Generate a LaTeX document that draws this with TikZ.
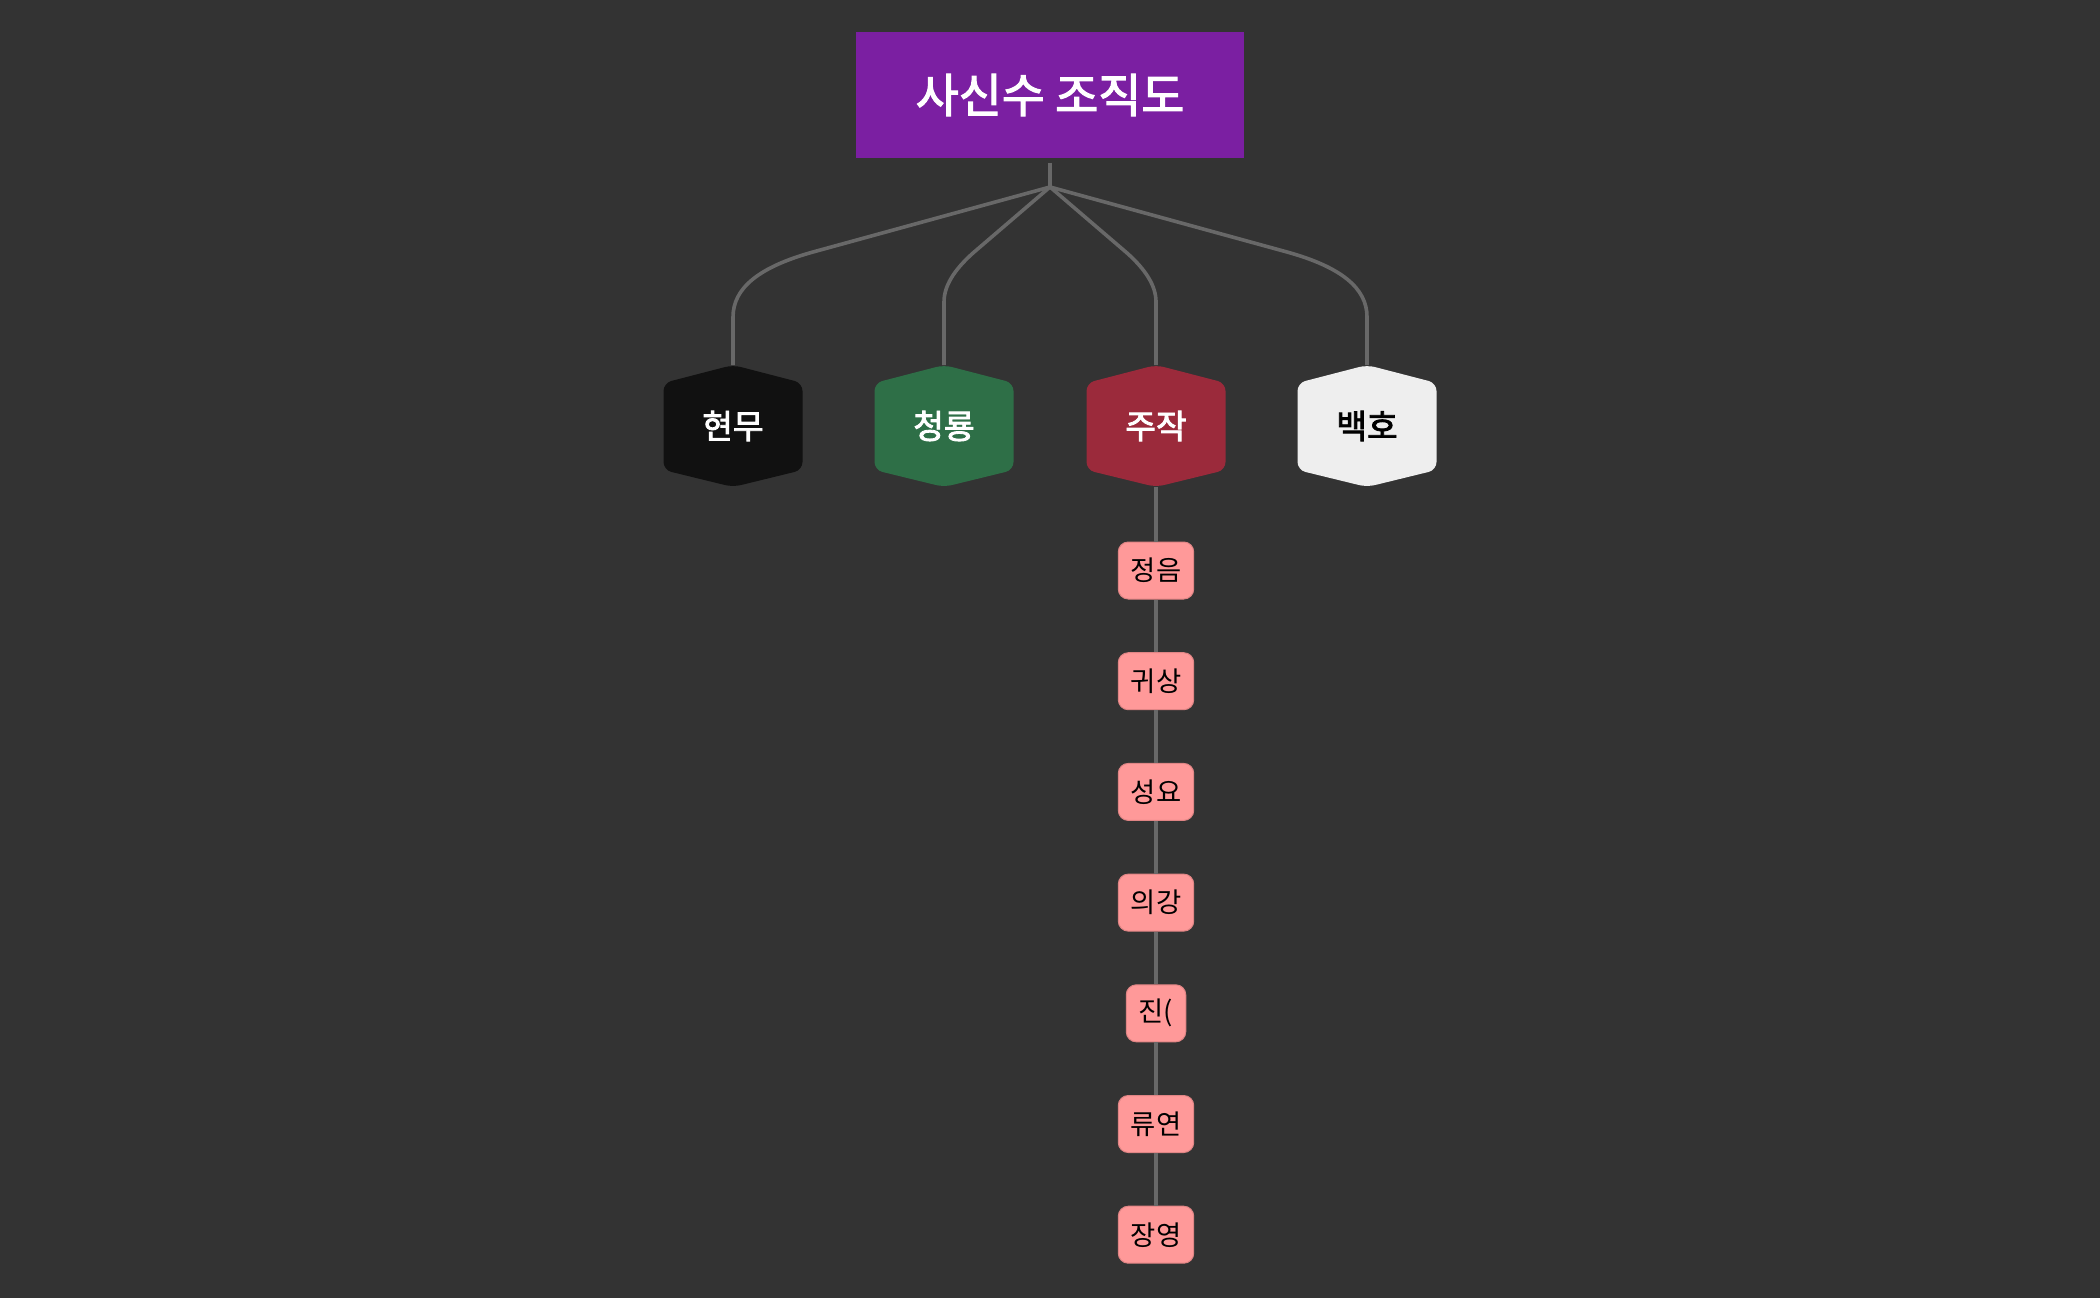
\documentclass[tikz,border=0pt]{standalone}
\usepackage{fontspec}
\newfontfamily\kr{Noto Sans CJK KR}
\newfontfamily\krmid[FakeBold=2.5]{Noto Sans CJK KR}
\definecolor{canvas}{HTML}{333333}
\definecolor{linegray}{HTML}{686868}
\definecolor{titlepurple}{HTML}{7B1FA2}
\definecolor{hexblack}{HTML}{111111}
\definecolor{hexgreen}{HTML}{2E6F47}
\definecolor{hexred}{HTML}{9B2A3B}
\definecolor{hexwhite}{HTML}{EEEEEE}
\definecolor{memberpink}{HTML}{FF9999}
\definecolor{memberedge}{HTML}{E08585}
% hexagon cell: name, x, fill, text colour, label
\newcommand{\hexcell}[5]{%
  \fill[#3, rounded corners=0.8mm] (#2-69.5,383) -- (#2,365) -- (#2+69.5,383)
    -- (#2+69.5,470) -- (#2,487) -- (#2-69.5,470) -- cycle;
  \node[hexlabel, text=#4] (#1) at (#2,426) {#5};
  \coordinate (#1-top) at (#2,365);
  \coordinate (#1-bottom) at (#2,487);}

\begin{document}
\begin{tikzpicture}[x=0.1mm, y=-0.1mm,
  link/.style={draw=linegray, line width=0.36mm},
  hexlabel/.style={font=\krmid\fontsize{9.5}{11}\selectfont},
  member/.style={fill=memberpink, draw=memberedge, line width=0.1mm, rounded corners=1mm,
    minimum height=5.7mm, inner xsep=1.25mm, inner ysep=0pt, text=black,
    font=\kr\fontsize{7.8}{9}\selectfont}]

\fill[canvas] (0,0) rectangle (2100,1298);
\useasboundingbox (0,0) rectangle (2100,1298);

\node[fill=titlepurple, minimum width=38.8mm, minimum height=12.6mm, text=white,
  font=\krmid\fontsize{13.3}{15}\selectfont] (title) at (1050,95) {사신수 조직도};
\coordinate (hub) at (1050,187);

\hexcell{hyeonmu}{733}{hexblack}{white}{현무}
\hexcell{cheongryong}{944}{hexgreen}{white}{청룡}
\hexcell{jujak}{1156}{hexred}{white}{주작}
\hexcell{baekho}{1367}{hexwhite}{black}{백호}

\draw[link] ([yshift=-0.4mm]title.south) -- (hub);
\draw[link] (hub) -- (813,252) .. controls (759,267) and (733,288) .. (733,317) -- (hyeonmu-top);
\draw[link] (hub) -- (973,253) .. controls (954,270) and (944,286) .. (944,302) -- (cheongryong-top);
\draw[link] (hub) -- (1127,253) .. controls (1146,270) and (1156,286) .. (1156,302) -- (jujak-top);
\draw[link] (hub) -- (1287,252) .. controls (1341,267) and (1367,288) .. (1367,317) -- (baekho-top);

\foreach \lbl [count=\i] in {정음, 귀상, 성요, 의강, 진(, 류연, 장영}
  \node[member] (member\i) at (1156, {570.5+110.7*(\i-1)}) {\lbl};

\draw[link] (jujak-bottom) -- (member1);
\foreach \i [evaluate=\i as \j using int(\i+1)] in {1,...,6}
  \draw[link] (member\i) -- (member\j);

\end{tikzpicture}
\end{document}
